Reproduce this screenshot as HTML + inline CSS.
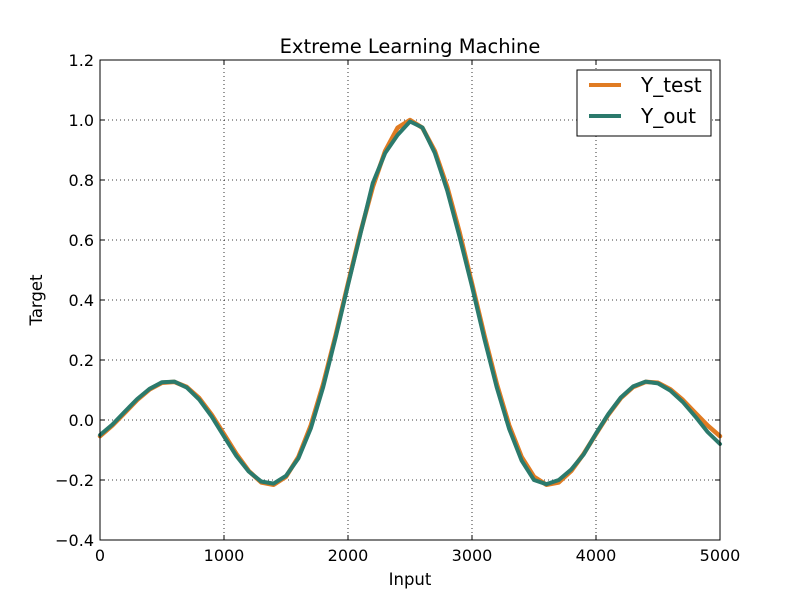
<!DOCTYPE html>
<html><head><meta charset="utf-8"><style>
body{margin:0;background:#fff;}
svg text{font-family:"DejaVu Sans","Liberation Sans",sans-serif;}
</style></head><body>
<svg id="c" width="800" height="600" xmlns="http://www.w3.org/2000/svg"></svg>
<script>
const xInputs=[0,100,200,300,400,500,600,700,800,900,1000,1100,1200,1300,1400,1500,1600,1700,1800,1900,2000,2100,2200,2300,2400,2500,2600,2700,2800,2900,3000,3100,3200,3300,3400,3500,3600,3700,3800,3900,4000,4100,4200,4300,4400,4500,4600,4700,4800,4900,5000];
const yTest=[-0.054,-0.018,0.024,0.067,0.102,0.124,0.127,0.110,0.073,0.018,-0.047,-0.113,-0.170,-0.208,-0.216,-0.189,-0.123,-0.018,0.120,0.282,0.455,0.625,0.777,0.897,0.974,1.0,0.974,0.897,0.777,0.625,0.455,0.282,0.120,-0.018,-0.123,-0.189,-0.216,-0.208,-0.170,-0.113,-0.047,0.018,0.073,0.110,0.127,0.124,0.102,0.067,0.024,-0.018,-0.054];
const yOut=[-0.050,-0.015,0.028,0.070,0.104,0.126,0.128,0.108,0.068,0.012,-0.055,-0.120,-0.172,-0.205,-0.212,-0.186,-0.128,-0.028,0.110,0.275,0.450,0.620,0.790,0.890,0.950,0.995,0.975,0.890,0.765,0.610,0.445,0.270,0.108,-0.030,-0.135,-0.200,-0.214,-0.200,-0.165,-0.115,-0.045,0.020,0.075,0.112,0.128,0.122,0.098,0.060,0.012,-0.040,-0.080];
const xTicks=[0,1000,2000,3000,4000,5000];
const yTicks=[-0.4,-0.2,0.0,0.2,0.4,0.6,0.8,1.0,1.2];
const yTickLabels=["\u22120.4","\u22120.2","0.0","0.2","0.4","0.6","0.8","1.0","1.2"];
const L=100,R=720,T=60,B=540;
const sx=v=>L+(v-0)/5000*(R-L);
const sy=v=>B-(v+0.4)/1.6*(B-T);
const svg=document.getElementById('c');
const NS='http://www.w3.org/2000/svg';
function mk(tag,attrs,parent){const e=document.createElementNS(NS,tag);for(const k in attrs)e.setAttribute(k,attrs[k]);(parent||svg).appendChild(e);return e;}
xTicks.forEach((t,i)=>{
 const g=mk('line',{x1:sx(t),x2:sx(t),y1:T,y2:B,stroke:'#000','stroke-dasharray':'1,3','stroke-width':0.8});
 
 
 const tk=mk('line',{x1:sx(t),x2:sx(t),y1:B,y2:B-5,stroke:'#000'});
 
 
 const tk2=mk('line',{x1:sx(t),x2:sx(t),y1:T,y2:T+5,stroke:'#000'});
 
 
 const tx=mk('text',{x:sx(t),y:B+21,'text-anchor':'middle','font-size':16});
 tx.textContent=String(t);
 
 
});
yTicks.forEach((t,i)=>{
 const g=mk('line',{x1:L,x2:R,y1:sy(t),y2:sy(t),stroke:'#000','stroke-dasharray':'1,3','stroke-width':0.8});
 
 
 const tk=mk('line',{x1:L,x2:L+5,y1:sy(t),y2:sy(t),stroke:'#000'});
 
 
 const tk2=mk('line',{x1:R,x2:R-5,y1:sy(t),y2:sy(t),stroke:'#000'});
 
 
 const tx=mk('text',{x:L-6,y:sy(t)+6,'text-anchor':'end','font-size':16});
 tx.textContent=yTickLabels[i];
 
 
});
function series(vals,color,w,name){
 const d=vals.map((v,i)=>(i?'L':'M')+sx(xInputs[i]).toFixed(2)+' '+sy(v).toFixed(2)).join(' ');
 const p=mk('path',{d:d,fill:'none',stroke:color,'stroke-width':w,'stroke-linejoin':'round','stroke-linecap':'round'});
 
 
}
series(yTest,'#e07b22',4.5,'y-test-line');
series(yOut,'#2b7a6c',4,'y-out-line');
const fr=mk('rect',{x:L,y:T,width:R-L,height:B-T,fill:'none',stroke:'#000','stroke-width':1});


</script>
<svg style="position:absolute;left:0;top:0" width="800" height="600" xmlns="http://www.w3.org/2000/svg">
 <text x="410" y="53" text-anchor="middle" font-size="19.5">Extreme Learning Machine</text>
 <text x="410" y="585" text-anchor="middle" font-size="16.5">Input</text>
 <text x="42" y="300" text-anchor="middle" font-size="16.5" transform="rotate(-90 42 300)">Target</text>
 <g>
  <rect x="577" y="70" width="134" height="66" fill="#fff" stroke="#000"/>
  <line x1="589" x2="621" y1="85" y2="85" stroke="#e07b22" stroke-width="4"/>
  <text x="641" y="92" font-size="20">Y_test</text>
  <line x1="589" x2="621" y1="116" y2="116" stroke="#2b7a6c" stroke-width="4"/>
  <text x="641" y="123" font-size="20">Y_out</text>
 </g>
</svg>
</body></html>
